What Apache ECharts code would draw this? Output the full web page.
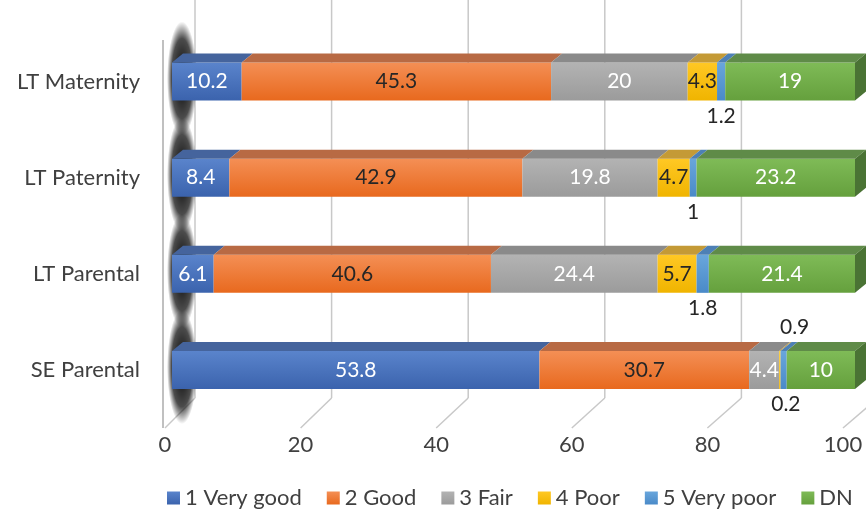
<!DOCTYPE html>
<html>
<head>
<meta charset="utf-8">
<script src="https://cdn.jsdelivr.net/npm/echarts@6/dist/echarts.min.js"></script>
<style>
html, body { margin: 0; padding: 0; background: #fff; }
#chart { width: 866px; height: 509px; }
</style>
</head>
<body>
<div id="chart"></div>
<script>
// 数据
var categories = ['LT Maternity', 'LT Paternity', 'LT Parental', 'SE Parental'];
var seriesNames = ['1 Very good', '2 Good', '3 Fair', '4 Poor', '5 Very poor', 'DN'];
var veryGood = [10.2, 8.4, 6.1, 53.8];
var good = [45.3, 42.9, 40.6, 30.7];
var fair = [20, 19.8, 24.4, 4.4];
var poor = [4.3, 4.7, 5.7, 0.2];
var veryPoor = [1.2, 1, 1.8, 0.9];
var dn = [19, 23.2, 21.4, 10];
var xTicks = [0, 20, 40, 60, 80, 100];

var allValues = [veryGood, good, fair, poor, veryPoor, dn];

// 颜色：正面上/下，顶面，侧面，标签
var frontTop = ['#5a84cc', '#f48f55', '#b3b3b3', '#ffc824', '#69a6dc', '#7fbb57'];
var frontBot = ['#3b63ad', '#e8691e', '#9b9b9b', '#f0b400', '#4a8ac8', '#65a03d'];
var topColor = ['#45649d', '#b86a44', '#8a8a8a', '#c49a36', '#4d80b5', '#5f8b48'];
var sideColor = ['#30497a', '#9a4f26', '#6e6e6e', '#9c7a20', '#3a6594', '#4a7334'];
var labelColor = ['#fff', '#262626', '#fff', '#262626', '#fff', '#fff'];

var FONT = 'Lato';
var BAR_H = 38;
var DX = 11, DY = 9;

var myChart = echarts.init(document.getElementById('chart'));

/**
 * 生成堆叠柱数据（小值标签放到柱外）
 */
function buildBarData(si) {
    let vals = allValues[si];
    let data = [];
    for (let i = 0; i < vals.length; i++) {
        let v = vals[i];
        if (v < 2) {
            let onTop = (categories[i] == 'SE Parental' && seriesNames[si] == '5 Very poor');
            data.push({
                value: v,
                label: {
                    position: onTop ? 'top' : 'bottom',
                    distance: onTop ? 13 : 5,
                    offset: onTop ? [11, 0] : [si == 3 ? 6 : 0, 0],
                    color: '#262626'
                }
            });
        } else {
            data.push(v);
        }
    }
    return data;
}

/**
 * 3D 顶面/侧面的数据：[起点, 终点, 类目, 系列]
 */
function buildFaceData() {
    let data = [];
    for (let i = 0; i < categories.length; i++) {
        let acc = 0;
        for (let s = 0; s < allValues.length; s++) {
            let v = allValues[s][i];
            data.push([acc, acc + v, i, s]);
            acc += v;
        }
    }
    return data;
}

function renderFace(params, api) {
    let start = api.value(0), end = api.value(1), cat = api.value(2), si = api.value(3);
    let p0 = api.coord([start, cat]);
    let p1 = api.coord([end, cat]);
    let yTop = p0[1] - BAR_H / 2;
    let yBot = p0[1] + BAR_H / 2;
    let children = [{
        type: 'polygon',
        shape: { points: [[p0[0], yTop], [p1[0], yTop], [p1[0] + DX, yTop - DY], [p0[0] + DX, yTop - DY]] },
        style: { fill: topColor[si] }
    }];
    if (si == allValues.length - 1) {
        children.push({
            type: 'polygon',
            shape: { points: [[p1[0], yTop], [p1[0] + DX, yTop - DY], [p1[0] + DX, yBot - DY], [p1[0], yBot]] },
            style: { fill: sideColor[si] }
        });
    }
    return { type: 'group', children: children };
}

// 左墙上的阴影（椭圆径向渐变）
function renderShadow(params, api) {
    let p = api.coord([0, api.value(0)]);
    return {
        type: 'circle',
        shape: { cx: 0, cy: 0, r: 15 },
        x: p[0] + 10,
        y: p[1] - 3,
        scaleY: 3.8,
        style: {
            fill: new echarts.graphic.RadialGradient(0.5, 0.5, 0.5, [
                { offset: 0, color: 'rgba(0,0,0,1)' },
                { offset: 0.7, color: 'rgba(0,0,0,0.7)' },
                { offset: 1, color: 'rgba(0,0,0,0)' }
            ])
        }
    };
}

// 背墙网格线和地板斜线（在标签坐标系上）
function renderGrid(params, api) {
    let v = api.value(0);
    let cs = params.coordSys;
    let xf = api.coord([v, 0])[0];
    let xb = cs.x + 30 + (xf - cs.x) * 683 / 678;
    let floorBack = cs.y + cs.height - 30;
    let floorFront = cs.y + cs.height;
    let lineStyle = { stroke: '#c8c8c8', lineWidth: 1.5 };
    let children = [
        { type: 'line', shape: { x1: xb, y1: 0, x2: xb, y2: floorBack }, style: lineStyle },
        { type: 'line', shape: { x1: xb, y1: floorBack, x2: xf, y2: floorFront }, style: lineStyle }
    ];
    if (v == 0) {
        children.push({ type: 'line', shape: { x1: xf - 2, y1: 40, x2: xf - 2, y2: floorFront }, style: { stroke: '#c0c0c0', lineWidth: 2 } });
    }
    return { type: 'group', children: children };
}

let series = [];

series.push({
    type: 'custom',
    name: 'grid',
    xAxisIndex: 1,
    yAxisIndex: 1,
    data: xTicks.map(function (t) { return [t]; }),
    renderItem: renderGrid,
    silent: true,
    z: 0
});

series.push({
    type: 'custom',
    name: 'shadow',
    xAxisIndex: 0,
    yAxisIndex: 0,
    data: categories.map(function (c, i) { return [i]; }),
    renderItem: renderShadow,
    silent: true,
    z: 1
});

for (let s = 0; s < seriesNames.length; s++) {
    series.push({
        type: 'bar',
        name: seriesNames[s],
        stack: 'total',
        barWidth: BAR_H,
        xAxisIndex: 0,
        yAxisIndex: 0,
        z: 3,
        itemStyle: {
            color: new echarts.graphic.LinearGradient(0, 0, 0, 1, [
                { offset: 0, color: frontTop[s] },
                { offset: 1, color: frontBot[s] }
            ])
        },
        label: {
            show: true,
            position: 'inside',
            color: labelColor[s],
            fontSize: 21,
            fontFamily: FONT
        },
        data: buildBarData(s)
    });
}

series.push({
    type: 'custom',
    name: 'faces',
    xAxisIndex: 0,
    yAxisIndex: 0,
    data: buildFaceData(),
    renderItem: renderFace,
    silent: true,
    z: 4
});

let option = {
    animation: false,
    color: frontBot,
    grid: [
        { left: 172, right: 11, top: 33.4, height: 384.7 },
        { left: 165, width: 678, top: 0, bottom: 81 }
    ],
    xAxis: [
        { gridIndex: 0, type: 'value', min: 0, max: 100, show: false },
        {
            gridIndex: 1, type: 'value', min: 0, max: 100, interval: 20,
            axisLine: { show: false }, axisTick: { show: false }, splitLine: { show: false },
            axisLabel: { margin: 6, fontSize: 22, color: '#404040', fontFamily: FONT }
        }
    ],
    yAxis: [
        {
            gridIndex: 0, type: 'category', inverse: true, data: categories,
            axisLine: { show: false }, axisTick: { show: false },
            axisLabel: { margin: 32, fontSize: 22, color: '#404040', fontFamily: FONT }
        },
        { gridIndex: 1, type: 'value', show: false, min: 0, max: 1 }
    ],
    legend: {
        data: seriesNames,
        bottom: -5,
        left: 162,
        icon: 'rect',
        itemWidth: 13,
        itemHeight: 13,
        itemGap: 25,
        textStyle: { fontSize: 22, color: '#404040', fontFamily: FONT }
    },
    series: series
};

myChart.setOption(option);
</script>
</body>
</html>
